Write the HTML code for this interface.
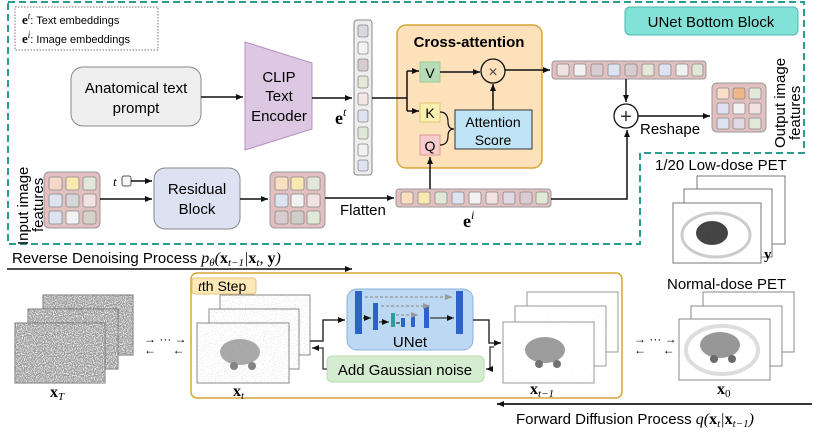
<!DOCTYPE html>
<html><head><meta charset="utf-8"><style>
body{margin:0;background:#fff}
svg{display:block;font-family:"Liberation Sans",sans-serif}
.m{font-family:"Liberation Serif",serif}
</style></head><body>
<svg width="830" height="438" viewBox="0 0 830 438" xmlns="http://www.w3.org/2000/svg">
<defs>
<marker id="a" markerWidth="8" markerHeight="8" refX="7" refY="4" orient="auto" markerUnits="userSpaceOnUse"><path d="M0,1 L7,4 L0,7z" fill="#111"/></marker>
<marker id="g" markerWidth="8" markerHeight="8" refX="7" refY="4" orient="auto" markerUnits="userSpaceOnUse"><path d="M0,1 L7,4 L0,7z" fill="#999"/></marker>
<filter id="nz" x="0" y="0" width="100%" height="100%"><feTurbulence type="fractalNoise" baseFrequency="0.9" numOctaves="1" seed="3"/><feColorMatrix type="matrix" values="0 0 0 0 0.3  0 0 0 0 0.3  0 0 0 0 0.3  0 0 0 -3 2.2"/></filter>
<filter id="nz2" x="0" y="0" width="100%" height="100%"><feTurbulence type="fractalNoise" baseFrequency="0.9" numOctaves="1" seed="5"/><feColorMatrix type="matrix" values="0 0 0 0 0.5  0 0 0 0 0.5  0 0 0 0 0.5  0 0 0 -1.5 0.75"/></filter>
<filter id="nz3" x="0" y="0" width="100%" height="100%"><feTurbulence type="fractalNoise" baseFrequency="0.9" numOctaves="1" seed="7"/><feColorMatrix type="matrix" values="0 0 0 0 0.5  0 0 0 0 0.5  0 0 0 0 0.5  0 0 0 -1.5 0.55"/></filter>
<g id="ct"><ellipse cx="0" cy="0" rx="20" ry="13" fill="#666" opacity="0.85"/><circle cx="-6" cy="14" r="4" fill="#444"/><circle cx="12" cy="14" r="4" fill="#444"/></g>
</defs>

<path d="M8,2 H804 V153 H640 V244 H8 Z" fill="none" stroke="#2a9d8f" stroke-width="2" stroke-dasharray="7,4"/>
<rect x="15" y="7" width="143" height="43" fill="#fff" stroke="#777" stroke-dasharray="1.5,1.5"/>
<text x="22" y="24" font-size="11"><tspan class="m" font-weight="bold" font-size="13">e</tspan><tspan class="m" font-style="italic" font-size="9" dy="-5">t</tspan><tspan dy="5">: Text embeddings</tspan></text>
<text x="22" y="43" font-size="11"><tspan class="m" font-weight="bold" font-size="13">e</tspan><tspan class="m" font-style="italic" font-size="9" dy="-5">i</tspan><tspan dy="5">: Image embeddings</tspan></text>

<rect x="71" y="67" width="130" height="59" rx="12" fill="#efefef" stroke="#888"/>
<text x="136" y="93" font-size="15" text-anchor="middle">Anatomical text</text>
<text x="136" y="113" font-size="15" text-anchor="middle">prompt</text>
<line x1="201" y1="97" x2="243" y2="97" stroke="#111" stroke-width="1.5" marker-end="url(#a)"/>
<path d="M245,42 L312,63 L312,129 L245,150 Z" fill="#dcc8e2" stroke="#b48fc4"/>
<text x="279" y="82" font-size="15" text-anchor="middle">CLIP</text>
<text x="279" y="101" font-size="15" text-anchor="middle">Text</text>
<text x="279" y="121" font-size="15" text-anchor="middle">Encoder</text>
<line x1="312" y1="98" x2="352" y2="98" stroke="#111" stroke-width="1.5" marker-end="url(#a)"/>
<text x="335" y="124" class="m" font-size="18" font-weight="bold">e<tspan font-size="12" font-style="italic" font-weight="normal" dy="-8">t</tspan></text>
<rect x="354" y="20" width="18" height="155" rx="3" fill="#eeeeee" stroke="#888"/>
<g stroke="#888" stroke-width="0.8">
<rect x="358" y="25" width="10" height="12" rx="2" fill="#dcd6e0"/>
<rect x="358" y="42" width="10" height="12" rx="2" fill="#f2f2f2"/>
<rect x="358" y="59" width="10" height="12" rx="2" fill="#d8ccd0"/>
<rect x="358" y="76" width="10" height="12" rx="2" fill="#e4e8d8"/>
<rect x="358" y="93" width="10" height="12" rx="2" fill="#f2e6e6"/>
<rect x="358" y="110" width="10" height="12" rx="2" fill="#dde3f0"/>
<rect x="358" y="127" width="10" height="12" rx="2" fill="#e2e8d8"/>
<rect x="358" y="144" width="10" height="12" rx="2" fill="#f2f2f2"/>
<rect x="358" y="160" width="10" height="11" rx="2" fill="#dde3f0"/>
</g>
<line x1="372" y1="98" x2="396" y2="98" stroke="#111" stroke-width="1.5"/>

<rect x="397" y="25" width="145" height="143" rx="9" fill="#fde1bb" stroke="#d6a636" stroke-width="1.5"/>
<text x="469" y="47" font-size="15" font-weight="bold" text-anchor="middle">Cross-attention</text>
<path d="M396,98 H407 M407,71 V111" stroke="#111" stroke-width="1.5" fill="none"/>
<line x1="407" y1="71" x2="419" y2="71" stroke="#111" stroke-width="1.5" marker-end="url(#a)"/>
<line x1="407" y1="111" x2="419" y2="111" stroke="#111" stroke-width="1.5" marker-end="url(#a)"/>
<rect x="420" y="62" width="20" height="20" fill="#b8dcb8" stroke="#9c9"/>
<text x="430" y="78" font-size="14" text-anchor="middle">V</text>
<rect x="420" y="103" width="20" height="19" fill="#f7f0b0" stroke="#dcc870"/>
<text x="430" y="118" font-size="14" text-anchor="middle">K</text>
<rect x="420" y="135" width="20" height="20" fill="#f8cccc" stroke="#d99"/>
<text x="430" y="151" font-size="14" text-anchor="middle">Q</text>
<path d="M440,112 Q448,112 448,122 Q448,129 454,129 M440,145 Q448,145 448,136 Q448,129 454,129" fill="none" stroke="#111" stroke-width="1.2"/>
<rect x="455" y="110" width="77" height="39" fill="#bfe4f5" stroke="#333"/>
<text x="493" y="127" font-size="14" text-anchor="middle">Attention</text>
<text x="493" y="145" font-size="14" text-anchor="middle">Score</text>
<line x1="493" y1="110" x2="493" y2="84" stroke="#111" stroke-width="1.5" marker-end="url(#a)"/>
<line x1="440" y1="72" x2="480" y2="72" stroke="#111" stroke-width="1.5" marker-end="url(#a)"/>
<circle cx="493" cy="71" r="12" fill="#fde1bb" stroke="#111" stroke-width="1.3"/>
<text x="493" y="77" font-size="16" text-anchor="middle" fill="#444">×</text>
<line x1="505" y1="70" x2="550" y2="70" stroke="#111" stroke-width="1.5" marker-end="url(#a)"/>

<rect x="625" y="7" width="173" height="28" rx="5" fill="#82e2d8" stroke="#4bb8b0"/>
<text x="711" y="27" font-size="15" text-anchor="middle">UNet Bottom Block</text>

<rect x="552" y="61" width="154" height="18" rx="3" fill="#e2c0c0" stroke="#999"/>
<g stroke="#888" stroke-width="0.8">
<rect x="557" y="64" width="12" height="12" rx="2" fill="#f0e2e2"/>
<rect x="574" y="64" width="12" height="12" rx="2" fill="#f2f2f2"/>
<rect x="591" y="64" width="12" height="12" rx="2" fill="#d8ccd0"/>
<rect x="608" y="64" width="12" height="12" rx="2" fill="#dde3f0"/>
<rect x="625" y="64" width="12" height="12" rx="2" fill="#d8ccd0"/>
<rect x="642" y="64" width="12" height="12" rx="2" fill="#e4e8d8"/>
<rect x="659" y="64" width="12" height="12" rx="2" fill="#dde3f0"/>
<rect x="676" y="64" width="12" height="12" rx="2" fill="#f2f2f2"/>
<rect x="692" y="64" width="11" height="12" rx="2" fill="#e2e8d8"/>
</g>
<line x1="626" y1="79" x2="626" y2="102" stroke="#111" stroke-width="1.5" marker-end="url(#a)"/>
<circle cx="626" cy="116" r="12" fill="#fff" stroke="#111" stroke-width="1.3"/>
<text x="626" y="123" font-size="20" text-anchor="middle" fill="#333">+</text>
<line x1="638" y1="116" x2="710" y2="116" stroke="#111" stroke-width="1.5" marker-end="url(#a)"/>
<text x="640" y="134" font-size="15">Reshape</text>
<rect x="712" y="83" width="54" height="49" rx="5" fill="#e2c0c0" stroke="#999"/>
<g stroke="#888" stroke-width="0.8">
<rect x="717" y="88" width="12" height="11" rx="2" fill="#fbe0c8"/><rect x="733" y="88" width="12" height="11" rx="2" fill="#f0b888"/><rect x="749" y="88" width="12" height="11" rx="2" fill="#e4e8d8"/>
<rect x="717" y="103" width="12" height="11" rx="2" fill="#e2e0f0"/><rect x="733" y="103" width="12" height="11" rx="2" fill="#f2f2f0"/><rect x="749" y="103" width="12" height="11" rx="2" fill="#f2e0e2"/>
<rect x="717" y="118" width="12" height="11" rx="2" fill="#dde3f0"/><rect x="733" y="118" width="12" height="11" rx="2" fill="#e0d8e2"/><rect x="749" y="118" width="12" height="11" rx="2" fill="#e2e8d8"/>
</g>
<text transform="translate(785,148) rotate(-90)" font-size="15">Output image</text>
<text transform="translate(800,140) rotate(-90)" font-size="15">features</text>

<text transform="translate(28,245) rotate(-90)" font-size="15">Input image</text>
<text transform="translate(43,232) rotate(-90)" font-size="15">features</text>
<rect x="44" y="172" width="56" height="56" rx="5" fill="#e2c0c0" stroke="#999"/>
<g stroke="#888" stroke-width="0.8">
<rect x="49" y="177" width="13" height="13" rx="2" fill="#f6d8c8"/><rect x="66" y="177" width="13" height="13" rx="2" fill="#fbe8b0"/><rect x="83" y="177" width="13" height="13" rx="2" fill="#e2e8d8"/>
<rect x="49" y="194" width="13" height="13" rx="2" fill="#dde3f0"/><rect x="66" y="194" width="13" height="13" rx="2" fill="#d6d6d6"/><rect x="83" y="194" width="13" height="13" rx="2" fill="#f2e2e2"/>
<rect x="49" y="211" width="13" height="13" rx="2" fill="#dde3f0"/><rect x="66" y="211" width="13" height="13" rx="2" fill="#f2f2f2"/><rect x="83" y="211" width="13" height="13" rx="2" fill="#d6d2c8"/>
</g>
<line x1="100" y1="199" x2="152" y2="199" stroke="#111" stroke-width="1.5" marker-end="url(#a)"/>
<text x="113" y="186" class="m" font-style="italic" font-size="13">t</text>
<rect x="122" y="176" width="9" height="10" rx="2" fill="#f4f8f6" stroke="#555"/>
<line x1="131" y1="181" x2="152" y2="181" stroke="#111" stroke-width="1.5" marker-end="url(#a)"/>
<rect x="154" y="168" width="86" height="61" rx="11" fill="#dde2f2" stroke="#888"/>
<text x="197" y="194" font-size="15" text-anchor="middle">Residual</text>
<text x="197" y="214" font-size="15" text-anchor="middle">Block</text>
<line x1="240" y1="199" x2="268" y2="199" stroke="#111" stroke-width="1.5" marker-end="url(#a)"/>
<rect x="270" y="172" width="55" height="56" rx="5" fill="#e2c0c0" stroke="#999"/>
<g stroke="#888" stroke-width="0.8">
<rect x="275" y="177" width="13" height="13" rx="2" fill="#fbe0c0"/><rect x="291" y="177" width="13" height="13" rx="2" fill="#fbe8b0"/><rect x="307" y="177" width="13" height="13" rx="2" fill="#e2e8d8"/>
<rect x="275" y="194" width="13" height="13" rx="2" fill="#dde3f0"/><rect x="291" y="194" width="13" height="13" rx="2" fill="#f2f2f2"/><rect x="307" y="194" width="13" height="13" rx="2" fill="#f2e2e2"/>
<rect x="275" y="211" width="13" height="13" rx="2" fill="#d8ccd0"/><rect x="291" y="211" width="13" height="13" rx="2" fill="#d0ccc8"/><rect x="307" y="211" width="13" height="13" rx="2" fill="#e2e8d8"/>
</g>
<line x1="325" y1="198" x2="394" y2="198" stroke="#111" stroke-width="1.5" marker-end="url(#a)"/>
<text x="340" y="215" font-size="15">Flatten</text>
<rect x="396" y="189" width="155" height="18" rx="3" fill="#e2c0c0" stroke="#999"/>
<g stroke="#888" stroke-width="0.8">
<rect x="401" y="192" width="12" height="12" rx="2" fill="#fbe0c0"/>
<rect x="418" y="192" width="12" height="12" rx="2" fill="#fbe8b0"/>
<rect x="435" y="192" width="12" height="12" rx="2" fill="#e2e8d8"/>
<rect x="452" y="192" width="12" height="12" rx="2" fill="#dde3f0"/>
<rect x="469" y="192" width="12" height="12" rx="2" fill="#f2f2f2"/>
<rect x="486" y="192" width="12" height="12" rx="2" fill="#f2e2e2"/>
<rect x="503" y="192" width="12" height="12" rx="2" fill="#e0d8e2"/>
<rect x="520" y="192" width="12" height="12" rx="2" fill="#d8ccd0"/>
<rect x="536" y="192" width="12" height="12" rx="2" fill="#e2e8d8"/>
</g>
<line x1="430" y1="189" x2="430" y2="157" stroke="#111" stroke-width="1.5" marker-end="url(#a)"/>
<path d="M551,199 H627 V130" fill="none" stroke="#111" stroke-width="1.5" marker-end="url(#a)"/>
<text x="463" y="227" class="m" font-size="18" font-weight="bold">e<tspan font-size="12" font-style="italic" font-weight="normal" dy="-8">i</tspan></text>

<text x="655" y="170" font-size="15">1/20 Low-dose PET</text>
<g stroke="#777" fill="#fff">
<rect x="697" y="176" width="88" height="68"/>
<rect x="684" y="189" width="88" height="68"/>
<rect x="673" y="203" width="88" height="60"/>
</g>
<ellipse cx="716" cy="235" rx="34" ry="22" fill="none" stroke="#ccc" stroke-width="3"/>
<ellipse cx="712" cy="233" rx="16" ry="12" fill="#444"/>
<rect x="673" y="203" width="88" height="60" filter="url(#nz3)" opacity="0.5"/>
<text x="764" y="259" class="m" font-weight="bold" font-size="15">y</text>

<text x="12" y="263" font-size="15">Reverse Denoising Process <tspan class="m" font-style="italic" font-size="16">p<tspan font-size="11" dy="3">θ</tspan><tspan dy="-3">(</tspan><tspan font-weight="bold" font-style="normal">x</tspan><tspan font-size="11" dy="3">t−1</tspan><tspan dy="-3">|</tspan><tspan font-weight="bold" font-style="normal">x</tspan><tspan font-size="11" dy="3">t</tspan><tspan dy="-3">, </tspan><tspan font-weight="bold" font-style="normal">y</tspan>)</tspan></text>
<line x1="7" y1="269" x2="352" y2="269" stroke="#111" stroke-width="1.5" marker-end="url(#a)"/>

<g stroke="#777">
<rect x="43" y="295" width="90" height="60" fill="#fff"/><rect x="43" y="295" width="90" height="60" filter="url(#nz)"/>
<rect x="28" y="309" width="90" height="60" fill="#fff"/><rect x="28" y="309" width="90" height="60" filter="url(#nz)"/>
<rect x="15" y="323" width="90" height="60" fill="#fff"/><rect x="15" y="323" width="90" height="60" filter="url(#nz)"/>
</g>
<text x="50" y="397" class="m" font-weight="bold" font-size="16">x<tspan font-size="11" font-style="italic" font-weight="normal" dy="3">T</tspan></text>
<g font-size="12"><text x="144" y="343">→ ··· →</text><text x="144" y="354">← &#160; &#160; ←</text></g>

<rect x="191" y="273" width="431" height="125" rx="6" fill="none" stroke="#d6a636" stroke-width="1.5"/>
<rect x="192" y="278" width="64" height="16" rx="3" fill="#fde8b8" stroke="#e6c070"/>
<text x="198" y="291" font-size="14"><tspan class="m" font-style="italic">t</tspan>th Step</text>
<g stroke="#888">
<rect x="220" y="295" width="90" height="60" fill="#fff"/><rect x="220" y="295" width="90" height="60" filter="url(#nz2)"/>
<rect x="209" y="309" width="90" height="60" fill="#fff"/><rect x="209" y="309" width="90" height="60" filter="url(#nz2)"/>
<rect x="197" y="323" width="92" height="60" fill="#fff"/><rect x="197" y="323" width="92" height="60" filter="url(#nz2)"/>
</g>
<use href="#ct" x="240" y="352" opacity="0.65"/>
<text x="233" y="396" class="m" font-weight="bold" font-size="16">x<tspan font-size="11" font-style="italic" font-weight="normal" dy="3">t</tspan></text>
<rect x="347" y="289" width="126" height="61" rx="10" fill="#bcd8f2" stroke="#88b0dc"/>
<g fill="#2d62c8"><rect x="355" y="291" width="7" height="43"/><rect x="373" y="303" width="5" height="27"/><rect x="391" y="313" width="4" height="14" fill="#2aa198"/><rect x="401" y="318" width="4" height="9"/><rect x="411" y="316" width="4" height="11"/><rect x="424" y="305" width="5" height="23"/><rect x="456" y="291" width="7" height="43"/></g>
<g stroke="#999" stroke-dasharray="3,2" stroke-width="1.2"><line x1="365" y1="297" x2="452" y2="297" marker-end="url(#g)"/><line x1="381" y1="306" x2="430" y2="306" marker-end="url(#g)"/><line x1="396" y1="315" x2="418" y2="315" marker-end="url(#g)"/></g>
<g stroke="#111" stroke-width="1"><line x1="363" y1="318" x2="371" y2="318" marker-end="url(#a)"/><line x1="379" y1="322" x2="389" y2="322" marker-end="url(#a)"/><line x1="396" y1="323" x2="400" y2="323"/><line x1="430" y1="318" x2="454" y2="318" marker-end="url(#a)"/></g>
<text x="410" y="347" font-size="15" text-anchor="middle">UNet</text>
<rect x="327" y="356" width="157" height="26" rx="5" fill="#d4ecd0" stroke="#b8dcb0"/>
<text x="405" y="375" font-size="15" text-anchor="middle">Add Gaussian noise</text>
<path d="M310,341 H323 V320 H345" fill="none" stroke="#333" stroke-width="1.5" marker-end="url(#a)"/>
<path d="M327,369 H323 V348 H312" fill="none" stroke="#333" stroke-width="1.3" marker-end="url(#a)"/>
<path d="M473,320 H489 V343 H501" fill="none" stroke="#333" stroke-width="1.5" marker-end="url(#a)"/>
<path d="M494,347 H490 V369 H486" fill="none" stroke="#333" stroke-width="1.3" marker-end="url(#a)"/>
<g stroke="#999">
<rect x="527" y="292" width="91" height="60" fill="#fff"/><rect x="527" y="292" width="91" height="60" filter="url(#nz3)"/>
<rect x="515" y="306" width="91" height="60" fill="#fff"/><rect x="515" y="306" width="91" height="60" filter="url(#nz3)"/>
<rect x="503" y="322" width="91" height="61" fill="#fff"/><rect x="503" y="322" width="91" height="61" filter="url(#nz3)"/>
</g>
<use href="#ct" x="545" y="350" opacity="0.75"/>
<text x="530" y="394" class="m" font-weight="bold" font-size="16">x<tspan font-size="11" font-style="italic" font-weight="normal" dy="3">t−1</tspan></text>
<g font-size="12"><text x="634" y="343">→ ··· →</text><text x="634" y="354">← &#160; &#160; ←</text></g>
<text x="667" y="289" font-size="15">Normal-dose PET</text>
<g stroke="#888" fill="#fff"><rect x="703" y="292" width="91" height="60"/><rect x="691" y="306" width="91" height="60"/><rect x="679" y="319" width="91" height="61"/></g>
<ellipse cx="722" cy="350" rx="36" ry="24" fill="none" stroke="#ddd" stroke-width="4"/>
<use href="#ct" x="720" y="345" opacity="0.8"/>
<text x="717" y="394" class="m" font-weight="bold" font-size="16">x<tspan font-size="11" dy="3" font-weight="normal">0</tspan></text>

<line x1="812" y1="404" x2="497" y2="404" stroke="#333" stroke-width="2" marker-end="url(#a)"/>
<text x="516" y="424" font-size="15">Forward Diffusion Process <tspan class="m" font-style="italic" font-size="16">q(<tspan font-weight="bold" font-style="normal">x</tspan><tspan font-size="11" dy="3">t</tspan><tspan dy="-3">|</tspan><tspan font-weight="bold" font-style="normal">x</tspan><tspan font-size="11" dy="3">t−1</tspan><tspan dy="-3">)</tspan></tspan></text>
</svg>
</body></html>
